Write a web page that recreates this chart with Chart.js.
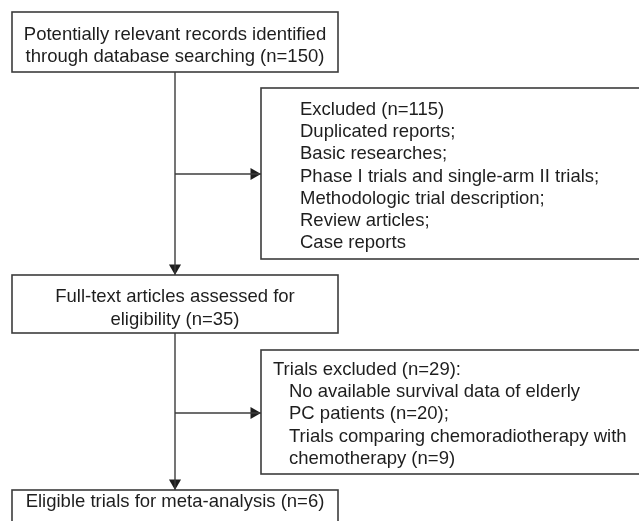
<!DOCTYPE html>
<html>
<head>
<meta charset="utf-8">
<script src="https://cdn.jsdelivr.net/npm/chart.js@4"></script>
<style>
  body { margin: 0; background: #fff; }
  canvas { display: block; }
</style>
</head>
<body>
<canvas id="flow" width="639" height="521"></canvas>
<script>
// counts shown in the flow diagram
const identifiedCount = 150;
const excludedCount = 115;
const fullTextCount = 35;
const trialsExcludedCount = 29;
const noSurvivalCount = 20;
const chemoradioCount = 9;
const eligibleCount = 6;

// text of each box
const identifiedLines = ["Potentially relevant records identified", `through database searching (n=${identifiedCount})`];
const excludedLines = [`Excluded (n=${excludedCount})`, "Duplicated reports;", "Basic researches;",
  "Phase I trials and single-arm II trials;", "Methodologic trial description;", "Review articles;", "Case reports"];
const fullTextLines = ["Full-text articles assessed for", `eligibility (n=${fullTextCount})`];
const trialsExcludedLines = [`Trials excluded (n=${trialsExcludedCount}):`, "No available survival data of elderly",
  `PC patients (n=${noSurvivalCount});`, "Trials comparing chemoradiotherapy with", `chemotherapy (n=${chemoradioCount})`];
const eligibleLines = [`Eligible trials for meta-analysis (n=${eligibleCount})`];

// layout, in canvas units (the scales run 0..639 and 0..521)
const boxes = [
  { lines: identifiedLines, x0: 12, y0: 12, x1: 338, y1: 72, align: "center", tx: 175, ty: 35, lh: 22 },
  { lines: excludedLines, x0: 261, y0: 88, x1: 700, y1: 259, align: "left", tx: 300, ty: 110, lh: 22.2 },
  { lines: fullTextLines, x0: 12, y0: 275, x1: 338, y1: 333, align: "center", tx: 175, ty: 297, lh: 22.5 },
  { lines: trialsExcludedLines, x0: 261, y0: 350, x1: 700, y1: 474, align: "left", tx: 273, ty: 370, lh: 22.2, indent: 16 },
  { lines: eligibleLines, x0: 12, y0: 490, x1: 338, y1: 560, align: "center", tx: 175, ty: 502, lh: 22 }
];
const spineX = 175;
const branchY = [174, 413];
const arrowR = 7;
const lineColor = "#3c3c3c";
const textColor = "#1e1e1e";

// connector segments built from the box geometry
const segments = [
  [{ x: spineX, y: boxes[0].y1 }, { x: spineX, y: boxes[2].y0 }],
  [{ x: spineX, y: branchY[0] }, { x: boxes[1].x0, y: branchY[0] }],
  [{ x: spineX, y: boxes[2].y1 }, { x: spineX, y: boxes[4].y0 }],
  [{ x: spineX, y: branchY[1] }, { x: boxes[3].x0, y: branchY[1] }]
];
const heads = [
  { x: spineX, y: boxes[2].y0 - arrowR },
  { x: boxes[1].x0 - arrowR, y: branchY[0] },
  { x: spineX, y: boxes[4].y0 - arrowR },
  { x: boxes[3].x0 - arrowR, y: branchY[1] }
];
const headRotation = [180, 90, 180, 90];

const datasets = segments.map(seg => ({
  data: seg,
  showLine: true,
  borderColor: lineColor,
  borderWidth: 1.4,
  pointRadius: 0
}));
datasets.push({
  data: heads,
  showLine: false,
  pointStyle: "triangle",
  rotation: headRotation,
  pointRadius: arrowR,
  backgroundColor: textColor,
  borderColor: textColor,
  borderWidth: 0
});

const boxPlugin = {
  id: "flowBoxes",
  beforeDatasetsDraw(chart) {
    const ctx = chart.ctx;
    const sx = chart.scales.x, sy = chart.scales.y;
    ctx.save();
    boxes.forEach(b => {
      const l = sx.getPixelForValue(b.x0), r = sx.getPixelForValue(b.x1);
      const t = sy.getPixelForValue(b.y0), btm = sy.getPixelForValue(b.y1);
      ctx.fillStyle = "#fff";
      ctx.fillRect(l, t, r - l, btm - t);
      ctx.strokeStyle = lineColor;
      ctx.lineWidth = 1.6;
      ctx.strokeRect(l, t, r - l, btm - t);
    });
    ctx.restore();
  },
  afterDatasetsDraw(chart) {
    const ctx = chart.ctx;
    const sx = chart.scales.x, sy = chart.scales.y;
    ctx.save();
    ctx.fillStyle = textColor;
    ctx.font = "18.5px 'Liberation Sans', Arial, sans-serif";
    ctx.textBaseline = "middle";
    boxes.forEach(b => {
      ctx.textAlign = b.align;
      b.lines.forEach((txt, i) => {
        const dx = (b.indent && i > 0) ? b.indent : 0;
        ctx.fillText(txt, sx.getPixelForValue(b.tx + dx), sy.getPixelForValue(b.ty + i * b.lh));
      });
    });
    ctx.restore();
  }
};

new Chart(document.getElementById("flow"), {
  type: "scatter",
  data: { datasets: datasets },
  options: {
    responsive: false,
    animation: false,
    layout: { padding: 0, autoPadding: false },
    scales: {
      x: { type: "linear", min: 0, max: 639, display: false },
      y: { type: "linear", min: 0, max: 521, reverse: true, display: false }
    },
    plugins: { legend: { display: false }, tooltip: { enabled: false } }
  },
  plugins: [boxPlugin]
});
</script>
</body>
</html>
